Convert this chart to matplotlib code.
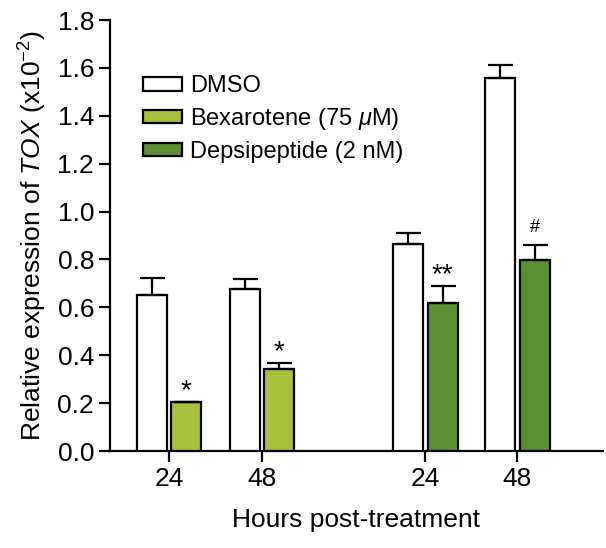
import numpy as np
import matplotlib
matplotlib.use('Agg')
import matplotlib.pyplot as plt
from matplotlib.patches import Patch

plt.rcParams['font.family'] = ['Liberation Sans', 'DejaVu Sans']
plt.rcParams['mathtext.fontset'] = 'custom'
plt.rcParams['mathtext.rm'] = 'Liberation Sans'
plt.rcParams['mathtext.it'] = 'Liberation Sans:italic'

# данные
tick_labels = ['24', '48', '24', '48']
dmso = [0.651, 0.676, 0.864, 1.557]
dmso_err = [0.071, 0.042, 0.046, 0.055]
bexarotene = [0.205, 0.342]
bexarotene_err = [0.0, 0.025]
depsipeptide = [0.618, 0.797]
depsipeptide_err = [0.071, 0.063]
marks = ['*', '*', '**', '#']

pos = np.array([0, 1, 2.76, 3.75])
w = 0.32
off = 0.185
col_bex = '#a7c13c'
col_dep = '#5b8f33'

fig = plt.figure(figsize=(6.06, 5.48), dpi=100)
ax = fig.add_axes([0.1815, 0.177, 0.8135, 0.7865])

ekw = dict(elinewidth=1.6, capthick=1.6, capsize=9, ecolor='black')
ax.bar(pos - off, dmso, w, color='white', edgecolor='black', linewidth=1.6,
       yerr=[np.zeros(4), dmso_err], error_kw=ekw, zorder=3)
ax.bar(pos[:2] + off, bexarotene, w, color=col_bex, edgecolor='black', linewidth=1.6,
       yerr=[np.zeros(2), bexarotene_err], error_kw=ekw, zorder=3)
ax.bar(pos[2:] + off, depsipeptide, w, color=col_dep, edgecolor='black', linewidth=1.6,
       yerr=[np.zeros(2), depsipeptide_err], error_kw=ekw, zorder=3)

# звездочки над столбцами
treat = bexarotene + depsipeptide
treat_err = bexarotene_err + depsipeptide_err
for i in range(4):
    y = treat[i] + treat_err[i] + 0.04
    if marks[i] == '#':
        ax.text(pos[i] + off, y, marks[i], ha='center', va='bottom', fontsize=13)
    else:
        ax.text(pos[i] + off, y - 0.05, marks[i], ha='center', va='bottom', fontsize=20)

ax.set_xlim(-0.634, 4.67)
ax.set_ylim(0, 1.8)
ax.set_yticks(np.arange(0, 1.81, 0.2))
ax.set_yticklabels(['%.1f' % v for v in np.arange(0, 1.81, 0.2)])
ax.set_xticks(pos)
ax.set_xticklabels(tick_labels)
ax.tick_params(axis='both', labelsize=19, width=1.6, length=8, direction='out')
for s in ['top', 'right']:
    ax.spines[s].set_visible(False)
for s in ['left', 'bottom']:
    ax.spines[s].set_linewidth(1.6)

ax.set_xlabel('Hours post-treatment', fontsize=19, labelpad=12)
ax.set_ylabel(r'Relative expression of $\it{TOX}$ (x10$^{-2}$)', fontsize=19, labelpad=6)

handles = [Patch(facecolor='white', edgecolor='black', linewidth=1.6, label='DMSO'),
           Patch(facecolor=col_bex, edgecolor='black', linewidth=1.6, label=r'Bexarotene (75 $\mu$M)'),
           Patch(facecolor=col_dep, edgecolor='black', linewidth=1.6, label='Depsipeptide (2 nM)')]
ax.legend(handles=handles, loc='upper left', bbox_to_anchor=(0.067, 0.872), frameon=False,
          fontsize=17, handlelength=1.65, handleheight=0.5, handletextpad=0.35, labelspacing=0.38,
          borderaxespad=0, borderpad=0)

fig.savefig('out.png', dpi=100)
